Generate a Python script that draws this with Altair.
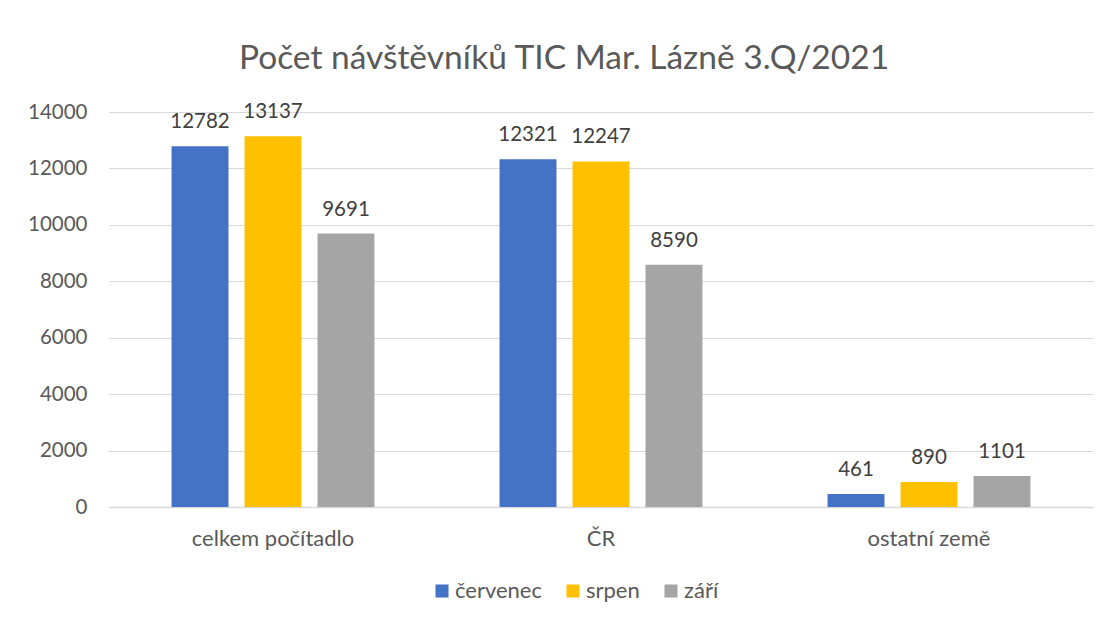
import altair as alt
import pandas as pd

categories = ["celkem počítadlo", "ČR", "ostatní země"]
months = ["červenec", "srpen", "září"]
cervenec = [12782, 12321, 461]
srpen = [13137, 12247, 890]
zari = [9691, 8590, 1101]
colors = ["#4472C4", "#FFC000", "#A5A5A5"]
y_ticks = [0, 2000, 4000, 6000, 8000, 10000, 12000, 14000]
title_text = "Počet návštěvníků TIC Mar. Lázně 3.Q/2021"

rows = []
for series_name, vals in zip(months, [cervenec, srpen, zari]):
    for cat, v in zip(categories, vals):
        rows.append({"kategorie": cat, "mesic": series_name, "pocet": v})
df = pd.DataFrame(rows)

FONT = "Lato"
TXT = "#595959"

x_enc = alt.X("kategorie:N", sort=categories, title=None,
              scale=alt.Scale(paddingInner=0, paddingOuter=0),
              axis=alt.Axis(labelAngle=0, labelFontSize=22, labelColor=TXT, labelFont=FONT,
                            ticks=False, domainColor="#D9D9D9", domainWidth=1.5,
                            labelPadding=21, grid=False))
xoff = alt.XOffset("mesic:N", sort=months,
                   scale=alt.Scale(paddingInner=0.22, paddingOuter=0.857))
y_enc = alt.Y("pocet:Q", title=None,
              scale=alt.Scale(domain=[0, 14000], nice=False),
              axis=alt.Axis(values=y_ticks, format="d", labelFontSize=20.5, labelColor=TXT,
                            labelFont=FONT, ticks=False, domain=False, gridColor="#D9D9D9",
                            gridWidth=1, labelPadding=22))

base = alt.Chart(df)
bars = base.mark_bar().encode(
    x=x_enc, xOffset=xoff, y=y_enc,
    color=alt.Color("mesic:N", sort=months,
                    scale=alt.Scale(domain=months, range=colors),
                    legend=alt.Legend(title=None, orient="none", direction="horizontal",
                                      legendX=322, legendY=468,
                                      symbolType="square", symbolSize=170,
                                      symbolStrokeWidth=0, labelFontSize=22,
                                      labelColor=TXT, labelFont=FONT, columnPadding=20,
                                      symbolOffset=0, labelOffset=2)),
)
labels = base.mark_text(baseline="alphabetic", dy=-18, fontSize=20.5, color="#404040", font=FONT).encode(
    x=alt.X("kategorie:N", sort=categories), xOffset=xoff, y="pocet:Q",
    text=alt.Text("pocet:Q", format="d"),
)

chart = alt.layer(bars, labels).properties(
    width=984, height=395,
    padding={"left": 101, "top": 104, "right": 7, "bottom": 100},
    autosize=alt.AutoSizeParams(type="none"),
    title=alt.TitleParams(title_text, fontSize=33.5, font=FONT, color=TXT, fontWeight="normal",
                          anchor="middle", dx=-37, offset=26),
).configure_view(stroke=None)

chart.save("out.html", embed_options={"renderer": "svg", "actions": False})
